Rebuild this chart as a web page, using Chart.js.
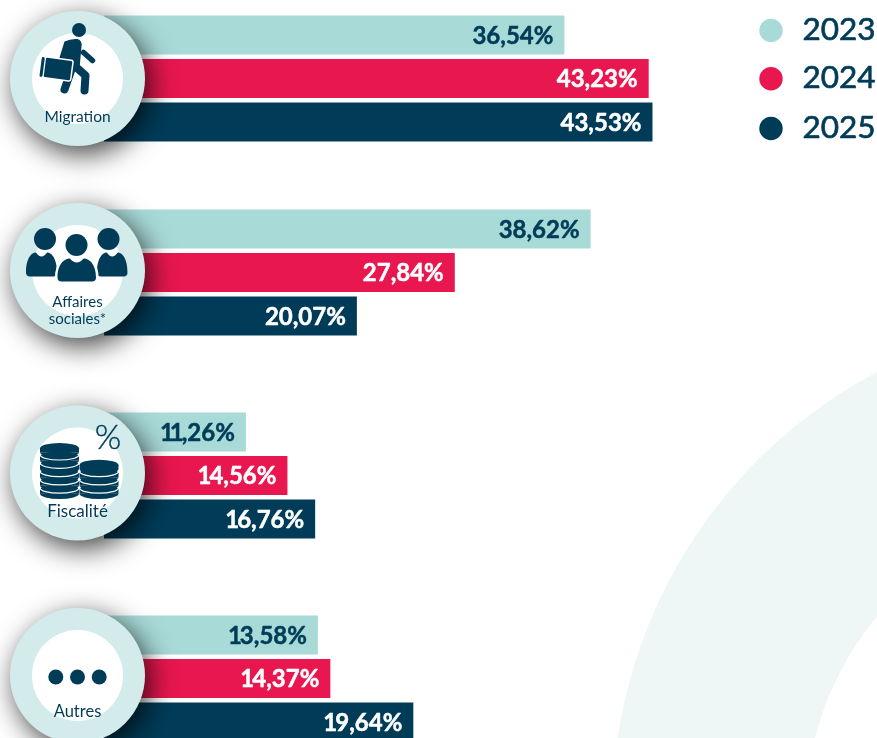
<!DOCTYPE html>
<html lang="fr">
<head>
<meta charset="utf-8">
<title>Chart</title>
<script src="https://cdn.jsdelivr.net/npm/chart.js@4"></script>
<style>html,body{margin:0;padding:0;background:#fff}canvas{display:block}</style>
</head>
<body>
<canvas id="c" width="877" height="738"></canvas>
<script>
// ---- data ----
const categories = ['Migration', 'Affaires sociales*', 'Fiscalité', 'Autres'];
const seriesNames = ['2023', '2024', '2025'];
const values2023 = [36.54, 38.62, 11.26, 13.58];
const values2024 = [43.23, 27.84, 14.56, 14.37];
const values2025 = [43.53, 20.07, 16.76, 19.64];

// ---- layout and style ----
const groupRows = [1.8046, 6.2644, 10.931, 15.598];   // group centres, in bar rows
const badgeShift = [0, -2, -2.5, -3];
const legendRows = [30.5, 78.7, 128.5];
const NAVY = '#003C58', TEAL = '#A8DAD8', RED = '#E8174F', RING = '#D3EBEB';
const seriesColors = [TEAL, RED, NAVY];
const labelColors = [NAVY, '#FFFFFF', '#FFFFFF'];
const allValues = [values2023, values2024, values2025];
const FONT = 'Lato, sans-serif';

function pts(vals, idx) { return idx.map(i => ({ x: vals[i], y: groupRows[i] })); }
const datasets = [];
seriesNames.forEach((n, s) => datasets.push({
  label: n, stack: n, xAxisID: 'x', data: pts(allValues[s], [0, 1, 2]),
  backgroundColor: seriesColors[s], borderWidth: 0, _s: s
}));
// the picture draws "Autres" to a longer scale than the other three groups
seriesNames.forEach((n, s) => datasets.push({
  label: n, stack: n, xAxisID: 'x2', data: pts(allValues[s], [3]),
  backgroundColor: seriesColors[s], borderWidth: 0, _s: s
}));

function body(c, x0, x1, yt, yb) {
  const w = x1 - x0, r = 4;
  c.beginPath();
  c.moveTo(x0, yb - r);
  c.bezierCurveTo(x0, yt + (yb - yt) * 0.2, x0 + w * 0.2, yt, x0 + w * 0.32, yt);
  c.quadraticCurveTo(x0 + w / 2, yt + 8, x1 - w * 0.32, yt);
  c.bezierCurveTo(x1 - w * 0.2, yt, x1, yt + (yb - yt) * 0.2, x1, yb - r);
  c.quadraticCurveTo(x1, yb, x1 - r, yb);
  c.lineTo(x0 + r, yb);
  c.quadraticCurveTo(x0, yb, x0, yb - r);
  c.closePath();
}
function disc(c, x, y, r) { c.beginPath(); c.arc(x, y, r, 0, Math.PI * 2); c.fill(); }

const icons = [
  function walker(c) { // local coords: origin at badge centre
    c.fillStyle = NAVY; c.strokeStyle = NAVY; c.lineCap = 'round'; c.lineJoin = 'round';
    disc(c, 1.5, -48.5, 7);
    c.beginPath();
    c.moveTo(-18, -21); c.lineTo(-13, -37); c.quadraticCurveTo(-7, -40, 0, -39.5);
    c.quadraticCurveTo(5, -38, 4, -32); c.lineTo(2, -10); c.lineTo(-12, -10); c.closePath(); c.fill();
    c.lineWidth = 8;
    c.beginPath(); c.moveTo(-5, -12); c.lineTo(-13, 11); c.stroke();
    c.beginPath(); c.moveTo(-1, -11); c.lineTo(8, -3); c.lineTo(7, 12); c.stroke();
    c.lineWidth = 5.5;
    c.beginPath(); c.moveTo(6, -26); c.lineTo(15, -18); c.stroke();
    // suitcase
    c.save(); c.translate(-19.5, -9.5); c.rotate(0.13);
    c.strokeStyle = '#fff'; c.lineWidth = 1.5;
    c.beginPath(); c.roundRect(-14, -10.5, 28, 21, 2); c.fill(); c.stroke();
    c.fillStyle = NAVY;
    c.beginPath(); c.roundRect(-17.5, -10, 3, 20, 1.5); c.fill();
    c.restore();
  },
  function people(c) {
    c.fillStyle = NAVY; c.strokeStyle = '#fff'; c.lineWidth = 5;
    disc(c, -32.5, -31.5, 11); disc(c, 31, -31.5, 11);
    body(c, -51.5, -20.5, -18, 6); c.fill();
    body(c, 19.5, 50, -18, 6); c.fill();
    c.beginPath(); c.arc(-1, -25.5, 13.5, 0, Math.PI * 2); c.stroke();
    disc(c, -1, -25.5, 11);
    body(c, -20, 18.5, -12, 11); c.stroke(); c.fill();
  },
  function coins(c) {
    function stack(cx, rx, bottom, n) {
      for (let i = 0; i < n; i++) {
        const y = bottom - i * 8.3;
        c.fillStyle = NAVY; c.strokeStyle = '#fff'; c.lineWidth = 1.2;
        c.beginPath(); c.ellipse(cx, y - 5.2, rx, 5.2, 0, 0, Math.PI * 2); c.fill();
        c.beginPath(); c.rect(cx - rx, y - 5.2, rx * 2, 4); c.fill();
        c.beginPath(); c.ellipse(cx, y - 1.2, rx, 5.2, 0, 0, Math.PI); c.fill();
        if (i < n - 1) { c.beginPath(); c.ellipse(cx, y - 7, rx, 5.2, 0, 0, Math.PI); c.stroke(); }
      }
    }
    stack(-18, 19.5, 22, 6);
    stack(21.5, 19.5, 22, 4);
    c.fillStyle = NAVY; c.strokeStyle = NAVY; c.lineWidth = 0.4;
    c.font = '300 34px ' + FONT; c.textAlign = 'center'; c.textBaseline = 'middle';
    c.fillText('%', 30.5, -35); c.strokeText('%', 30.5, -35);
  },
  function dots(c) {
    c.fillStyle = NAVY;
    [-21.7, 0, 21.7].forEach(x => disc(c, x, 1.5, 7.5));
  }
];
const captions = [[['Migration', 43.5]], [['Affaires', 36.5], ['sociales*', 53.5]], [['Fiscalité', 44]], [['Autres', 41.5]]];
const captionSizes = [15.5, 15, 17, 16.5];

// right-aligned value label; the reference's "1" is narrower than Lato's tabular figure
function drawValue(c, text, right, y) {
  let x = right;
  c.textAlign = 'right';
  for (let k = text.length - 1; k >= 0; k--) {
    const ch = text[k], one = ch === '1';
    const gx = one ? x + 2 : x;
    c.strokeText(ch, gx, y);
    c.fillText(ch, gx, y);
    x -= c.measureText(ch).width - (one ? 4 : 0);
  }
}

const decor = {
  id: 'decor',
  beforeDraw(chart) {
    const c = chart.ctx;
    c.save();
    c.fillStyle = '#fff'; c.fillRect(0, 0, 877, 738);
    c.fillStyle = '#EFF7F6';
    c.beginPath(); c.arc(1110, 812, 498, 0, Math.PI * 2); c.arc(1110, 812, 304, 0, Math.PI * 2, true); c.fill();
    c.restore();
  },
  afterDatasetsDraw(chart) {
    const c = chart.ctx, y = chart.scales.y;
    // value labels
    chart.data.datasets.forEach((ds, d) => {
      const meta = chart.getDatasetMeta(d);
      meta.data.forEach((el, i) => {
        c.save();
        c.font = '700 24px ' + FONT; c.textBaseline = 'middle'; c.lineJoin = 'round';
        c.fillStyle = labelColors[ds._s]; c.strokeStyle = labelColors[ds._s]; c.lineWidth = 0.5;
        drawValue(c, ds.data[i].x.toFixed(2).replace('.', ',') + '%', el.x - 11, el.y + 1);
        c.restore();
      });
    });
    // category badges
    categories.forEach((cat, i) => {
      const cx = 77.5, cy = y.getPixelForValue(groupRows[i]) + badgeShift[i];
      c.save();
      c.shadowColor = 'rgba(0,0,0,0.75)'; c.shadowBlur = 28; c.shadowOffsetX = 5; c.shadowOffsetY = 8;
      c.fillStyle = RING; disc(c, cx, cy, 67.5);
      c.restore();
      c.save();
      c.fillStyle = '#fff'; disc(c, cx, cy, 45.5);
      c.translate(cx, cy);
      icons[i](c);
      c.fillStyle = NAVY; c.font = '400 ' + captionSizes[i] + 'px ' + FONT; c.textAlign = 'center'; c.textBaseline = 'alphabetic';
      captions[i].forEach(([t, dy]) => c.fillText(t, 0, dy));
      c.restore();
    });
    // series key
    seriesNames.forEach((n, s) => {
      c.save();
      c.fillStyle = seriesColors[s]; disc(c, 771, legendRows[s], 11.7);
      c.fillStyle = NAVY; c.strokeStyle = NAVY; c.lineWidth = 0.7; c.lineJoin = 'round';
      c.font = '400 31.5px ' + FONT; c.textAlign = 'left'; c.textBaseline = 'middle';
      c.fillText(n, 802.5, legendRows[s] - 0.5); c.strokeText(n, 802.5, legendRows[s] - 0.5);
      c.restore();
    });
  }
};

new Chart(document.getElementById('c'), {
  type: 'bar',
  data: { datasets },
  plugins: [decor],
  options: {
    indexAxis: 'y',
    responsive: false,
    animation: false,
    layout: { padding: { left: 104, top: 0, right: 0, bottom: 0 } },
    categoryPercentage: 130.5 / 194,
    barPercentage: 39 / 43.5,
    scales: {
      y: { type: 'linear', reverse: true, offset: false, min: 0, max: 738 / 43.5, display: false, ticks: { stepSize: 20 } },
      x: { type: 'linear', min: 0, max: 773 / 12.6, display: false, stacked: false },
      x2: { type: 'linear', axis: 'x', min: 0, max: 773 / 15.75, display: false, stacked: false }
    },
    plugins: {
      tooltip: { enabled: false },
      legend: { display: false }
    }
  }
});
</script>
</body>
</html>
